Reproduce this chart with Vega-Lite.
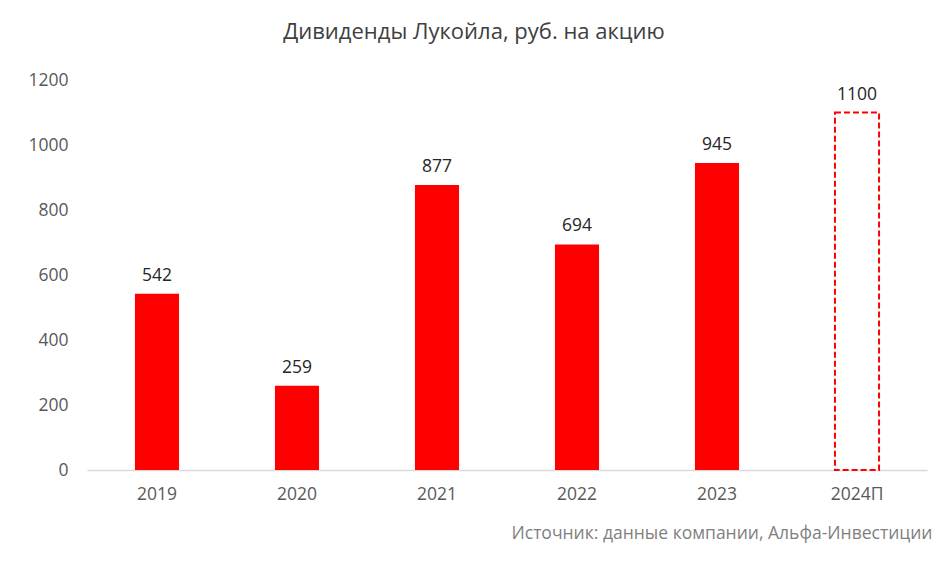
{
  "$schema": "https://vega.github.io/schema/vega-lite/v6.json",
  "width": 840,
  "height": 390,
  "autosize": {"type": "none"},
  "padding": {"left": 87, "top": 80, "right": 25, "bottom": 94},
  "background": "white",
  "config": {"view": {"stroke": null}, "font": "Open Sans"},
  "title": {
    "text": "Дивиденды Лукойла, руб. на акцию",
    "fontSize": 22,
    "fontWeight": "normal",
    "color": "#404040",
    "anchor": "middle",
    "dx": -33,
    "offset": 27
  },
  "data": {
    "values": [
      {"year": "2019", "value": 542, "forecast": false},
      {"year": "2020", "value": 259, "forecast": false},
      {"year": "2021", "value": 877, "forecast": false},
      {"year": "2022", "value": 694, "forecast": false},
      {"year": "2023", "value": 945, "forecast": false},
      {"year": "2024П", "value": 1100, "forecast": true}
    ]
  },
  "encoding": {
    "x": {
      "field": "year",
      "type": "nominal",
      "sort": null,
      "scale": {"paddingInner": 0.685, "paddingOuter": 0.3425},
      "axis": {
        "labelAngle": 0,
        "ticks": false,
        "domainColor": "#d9d9d9",
        "domainWidth": 1.5,
        "labelColor": "#595959",
        "labelFontSize": 17.5,
        "labelPadding": 15,
        "title": "Источник: данные компании, Альфа-Инвестиции",
        "titleColor": "#7f7f7f",
        "titleFontSize": 17.5,
        "titleFontWeight": "normal",
        "titleAlign": "right",
        "titleAnchor": "end",
        "titleX": 845,
        "titleY": 68,
        "titleBaseline": "alphabetic"
      }
    },
    "y": {
      "field": "value",
      "type": "quantitative",
      "scale": {"domain": [0, 1200]},
      "axis": {
        "values": [0, 200, 400, 600, 800, 1000, 1200],
        "format": "d",
        "grid": false,
        "domain": false,
        "ticks": false,
        "labelColor": "#595959",
        "labelFontSize": 17.5,
        "labelPadding": 19,
        "title": null
      }
    }
  },
  "layer": [
    {
      "transform": [{"filter": "!datum.forecast"}],
      "mark": {"type": "bar", "color": "#ff0000"}
    },
    {
      "transform": [{"filter": "datum.forecast"}],
      "mark": {"type": "bar", "fill": "transparent", "stroke": "#ff0000", "strokeWidth": 2, "strokeDash": [6, 3]}
    },
    {
      "mark": {"type": "text", "baseline": "bottom", "dy": -9, "fontSize": 17.5, "color": "#262626"},
      "encoding": {"text": {"field": "value", "type": "quantitative", "format": "d"}}
    }
  ]
}
